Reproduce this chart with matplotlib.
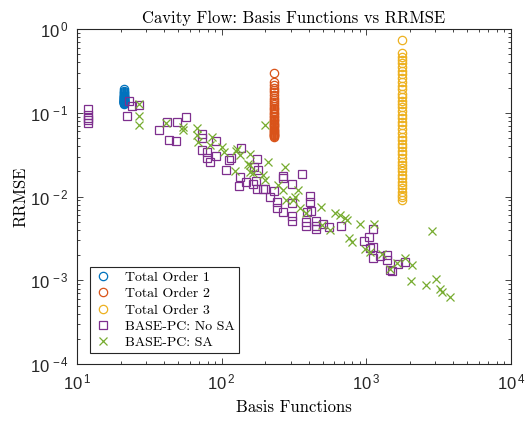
import numpy as np
import matplotlib
matplotlib.use("Agg")
import matplotlib.pyplot as plt
from matplotlib.ticker import LogLocator, NullFormatter, FuncFormatter

plt.rcParams['mathtext.fontset'] = 'custom'
plt.rcParams['mathtext.rm'] = 'Liberation Sans'
plt.rcParams['mathtext.it'] = 'Liberation Sans:italic'
plt.rcParams['font.family'] = ['Liberation Sans', 'DejaVu Sans']

# total order expansions (20 inputs)
to1_n = 21
to1_err = [0.19, 0.183, 0.177, 0.172, 0.168, 0.164, 0.161, 0.158, 0.156, 0.154,
           0.152, 0.150, 0.148, 0.146, 0.145, 0.143, 0.142, 0.140, 0.139, 0.138,
           0.137, 0.136, 0.135, 0.134, 0.133, 0.132, 0.131, 0.130, 0.129]
to2_n = 231
to2_err = [0.30, 0.235, 0.215, 0.20, 0.187, 0.175, 0.163, 0.152, 0.142, 0.135,
           0.128, 0.121, 0.115, 0.11, 0.105, 0.10, 0.096, 0.092, 0.088, 0.085,
           0.082, 0.079, 0.076, 0.073, 0.071, 0.069, 0.067, 0.065, 0.063, 0.061,
           0.059, 0.058, 0.056, 0.055, 0.054, 0.053, 0.052]
to3_n = 1771
to3_err = [0.74, 0.52, 0.47, 0.43, 0.39, 0.35, 0.32, 0.29, 0.26, 0.235, 0.21,
           0.19, 0.17, 0.155, 0.14, 0.128, 0.116, 0.105, 0.095, 0.086, 0.078,
           0.071, 0.064, 0.058, 0.052, 0.047, 0.043, 0.039, 0.035, 0.032, 0.029,
           0.026, 0.024, 0.022, 0.020, 0.018, 0.0165, 0.015, 0.0138, 0.0126,
           0.0115, 0.0105, 0.0098, 0.0092]

# BASE-PC without sensitivity analysis
nosa_n = [12, 12, 12, 12, 12, 23, 24, 22, 27, 37, 42, 49, 57, 43, 48, 73, 73, 91,
          73, 79, 92, 79, 83, 136, 116, 113, 177, 108, 167, 179, 135, 147, 132,
          173, 165, 175, 194, 199, 230, 216, 240, 240, 265, 265, 305, 359, 267,
          305, 407, 407, 412, 391, 306, 306, 386, 386, 446, 446, 446, 499, 552,
          667, 1116, 1042, 967, 1116, 1060, 1116, 1242, 1394, 1394, 1849, 1662,
          1455, 1496]
nosa_err = [0.111, 0.094, 0.087, 0.081, 0.075, 0.138, 0.119, 0.0915, 0.124,
            0.0622, 0.0769, 0.0776, 0.089, 0.0473, 0.0456, 0.0553, 0.0496, 0.046,
            0.0359, 0.0337, 0.0305, 0.0291, 0.0256, 0.038, 0.0286, 0.0273, 0.0278,
            0.0207, 0.0227, 0.0207, 0.017, 0.0148, 0.0135, 0.0153, 0.014, 0.0122,
            0.0122, 0.0122, 0.0116, 0.00995, 0.00867, 0.00723, 0.0177, 0.0165,
            0.0141, 0.0186, 0.00658, 0.0083, 0.0102, 0.00867, 0.00677, 0.00658,
            0.00585, 0.00514, 0.005, 0.00444, 0.00514, 0.00444, 0.00406, 0.00466,
            0.00429, 0.00444, 0.00406, 0.00326, 0.00294, 0.00252, 0.00241,
            0.00186, 0.00195, 0.002, 0.00174, 0.00164, 0.00159, 0.00132, 0.0013]

# BASE-PC with sensitivity analysis
sa_n = [27, 27, 27, 41, 54, 54, 68, 68, 69, 86, 83, 100, 104, 125, 127, 134, 157,
        157, 210, 274, 199, 153, 157, 165, 124, 194, 199, 246, 267, 338, 321, 281,
        313, 347, 386, 485, 607, 657, 712, 731, 491, 560, 904, 1130, 759, 792,
        977, 1060, 1276, 1620, 1849, 2076, 2870, 2056, 2582, 3027, 3226, 3365,
        3784, 1460]
sa_err = [0.126, 0.0922, 0.0708, 0.0748, 0.0681, 0.0622, 0.0652, 0.0542, 0.0451,
          0.0518, 0.0412, 0.0393, 0.0343, 0.0352, 0.0366, 0.0313, 0.0319, 0.0238,
          0.0256, 0.0227, 0.0708, 0.0242, 0.0198, 0.0189, 0.0202, 0.0181, 0.0157,
          0.0137, 0.012, 0.012, 0.00995, 0.00908, 0.00908, 0.00723, 0.00641,
          0.00743, 0.00641, 0.00601, 0.00549, 0.00524, 0.00457, 0.00398, 0.00466,
          0.00466, 0.00317, 0.00289, 0.00234, 0.00219, 0.00206, 0.00162, 0.00183,
          0.00152, 0.00387, 0.00098, 0.000877, 0.00105, 0.00078, 0.00073,
          0.000626, 0.00137]

fig = plt.figure(figsize=(5.31, 4.21), dpi=100)
ax = fig.add_axes([0.145, 0.135, 0.817, 0.796])

ms = 6
ax.plot([to1_n] * len(to1_err), to1_err, 'o', mfc='none', mec='#0072BD', ms=ms,
        mew=0.9, label='Total Order 1')
ax.plot([to2_n] * len(to2_err), to2_err, 'o', mfc='none', mec='#D95319', ms=ms,
        mew=0.9, label='Total Order 2')
ax.plot([to3_n] * len(to3_err), to3_err, 'o', mfc='none', mec='#EDB120', ms=ms,
        mew=0.9, label='Total Order 3')
ax.plot(nosa_n, nosa_err, 's', mfc='none', mec='#7E2F8E', ms=5.5, mew=0.9,
        label='BASE-PC: No SA')
ax.plot(sa_n, sa_err, 'x', color='#77AC30', ms=6, mew=0.9, label='BASE-PC: SA')

ax.set_xscale('log')
ax.set_yscale('log')
ax.set_xlim(10, 1e4)
ax.set_ylim(1e-4, 1)
ax.xaxis.set_major_locator(LogLocator(base=10, numticks=10))
ax.yaxis.set_major_locator(LogLocator(base=10, numticks=10))
ax.xaxis.set_minor_locator(LogLocator(base=10, subs=np.arange(2, 10), numticks=20))
ax.yaxis.set_minor_locator(LogLocator(base=10, subs=np.arange(2, 10), numticks=20))
ax.xaxis.set_minor_formatter(NullFormatter())
ax.yaxis.set_minor_formatter(NullFormatter())

# matlab-style "10 ^n" labels
def pow_fmt(v, pos):
    return r'$\mathdefault{10^{\,%d}}$' % int(round(np.log10(v)))

ax.xaxis.set_major_formatter(FuncFormatter(pow_fmt))
ax.yaxis.set_major_formatter(FuncFormatter(pow_fmt))

axc = '#262626'
for s in ax.spines.values():
    s.set_color(axc)
    s.set_linewidth(0.8)
ax.tick_params(which='both', direction='in', top=True, right=True, colors=axc,
               labelsize=12, width=0.6)
ax.tick_params(which='major', length=4.5, pad=6)
ax.tick_params(which='minor', length=2.5)

serif = 'cmr10'
ax.set_title('Cavity Flow: Basis Functions vs RRMSE', family=serif, fontsize=12,
             pad=4)
ax.set_xlabel('Basis Functions', family=serif, fontsize=12, labelpad=5)
ax.set_ylabel('RRMSE', family=serif, fontsize=12, labelpad=1)

leg = ax.legend(loc='lower left', bbox_to_anchor=(0.03, 0.033), borderaxespad=0,
                fancybox=False, edgecolor=axc, framealpha=1,
                prop={'family': serif, 'size': 10}, handlelength=1.2,
                handletextpad=1.0, labelspacing=0.25, borderpad=0.3)
leg.get_frame().set_linewidth(0.8)

fig.savefig('out.png', dpi=100)
